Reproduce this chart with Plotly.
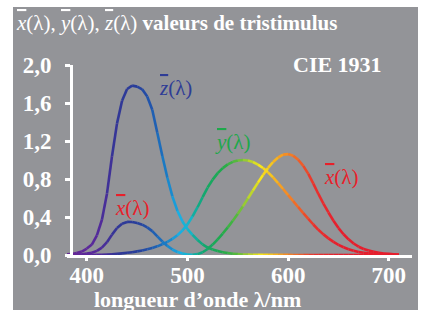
import plotly.graph_objects as go

# ---------------- data (CIE 1931 colour matching functions) ----------------
wavelength = list(range(380, 715, 5))
x_bar = [0.001368, 0.002236, 0.004243, 0.007650, 0.014310, 0.023190, 0.043510, 0.077630,
         0.134380, 0.214770, 0.283900, 0.328500, 0.348280, 0.348060, 0.336200, 0.318700,
         0.290800, 0.251100, 0.195360, 0.142100, 0.095640, 0.057950, 0.032010, 0.014700,
         0.004900, 0.002400, 0.009300, 0.029100, 0.063270, 0.109600, 0.165500, 0.225750,
         0.290400, 0.359700, 0.433450, 0.512050, 0.594500, 0.678400, 0.762100, 0.842500,
         0.916300, 0.978600, 1.026300, 1.056700, 1.062200, 1.045600, 1.002600, 0.938400,
         0.854450, 0.751400, 0.642400, 0.541900, 0.447900, 0.360800, 0.283500, 0.218700,
         0.164900, 0.121200, 0.087400, 0.063600, 0.046770, 0.032900, 0.022700, 0.015840,
         0.011359, 0.008111, 0.005790]
y_bar = [0.000039, 0.000064, 0.000120, 0.000217, 0.000396, 0.000640, 0.001210, 0.002180,
         0.004000, 0.007300, 0.011600, 0.016840, 0.023000, 0.029800, 0.038000, 0.048000,
         0.060000, 0.073900, 0.090980, 0.112600, 0.139020, 0.169300, 0.208020, 0.258600,
         0.323000, 0.407300, 0.503000, 0.608200, 0.710000, 0.793200, 0.862000, 0.914850,
         0.954000, 0.980300, 0.994950, 1.000000, 0.995000, 0.978600, 0.952000, 0.915400,
         0.870000, 0.816300, 0.757000, 0.694900, 0.631000, 0.566800, 0.503000, 0.441200,
         0.381000, 0.321000, 0.265000, 0.217000, 0.175000, 0.138200, 0.107000, 0.081600,
         0.061000, 0.044580, 0.032000, 0.023200, 0.017000, 0.011920, 0.008210, 0.005723,
         0.004102, 0.002929, 0.002091]
z_bar = [0.006450, 0.010550, 0.020050, 0.036210, 0.067850, 0.110200, 0.207400, 0.371300,
         0.645600, 1.039050, 1.385600, 1.622960, 1.747060, 1.782600, 1.772110, 1.744100,
         1.669200, 1.528100, 1.287640, 1.041900, 0.812950, 0.616200, 0.465180, 0.353300,
         0.272000, 0.212300, 0.158200, 0.111700, 0.078250, 0.057250, 0.042160, 0.029840,
         0.020300, 0.013400, 0.008750, 0.005750, 0.003900, 0.002750, 0.002100, 0.001800,
         0.001650, 0.001400, 0.001100, 0.001000, 0.000800, 0.000600, 0.000340, 0.000240,
         0.000190, 0.000100, 0.000050, 0.000030, 0.000020, 0.000010, 0.0, 0.0,
         0.0, 0.0, 0.0, 0.0, 0.0, 0.0, 0.0, 0.0,
         0.0, 0.0, 0.0]

x_tick_vals = [400, 500, 600, 700]
x_tick_text = ["400", "500", "600", "700"]
y_tick_vals = [0.0, 0.4, 0.8, 1.2, 1.6, 2.0]
y_tick_text = ["0,0", "0,4", "0,8", "1,2", "1,6", "2,0"]

# ---------------- style ----------------
FONT = "Liberation Serif"
GRAY = "#939498"
WHITE = "#ffffff"
SPECTRUM = [
    (380, (105, 40, 150)), (410, (85, 40, 155)), (430, (50, 55, 150)), (450, (40, 62, 155)),
    (465, (32, 90, 175)), (480, (25, 128, 200)), (492, (25, 175, 228)), (502, (20, 182, 205)),
    (510, (15, 170, 140)), (520, (22, 168, 100)), (535, (32, 170, 75)), (550, (95, 188, 60)),
    (562, (185, 212, 45)), (572, (247, 232, 25)), (582, (247, 200, 30)), (595, (246, 150, 35)),
    (610, (240, 100, 40)), (625, (233, 50, 45)), (650, (230, 30, 45)), (720, (230, 30, 45)),
]


def spectral_color(lam):
    for (l0, c0), (l1, c1) in zip(SPECTRUM[:-1], SPECTRUM[1:]):
        if l0 <= lam <= l1:
            t = (lam - l0) / (l1 - l0)
            r, g, b = (round(a + (b_ - a) * t) for a, b_ in zip(c0, c1))
            return f"rgb({r},{g},{b})"
    return "rgb(230,30,45)"


fig = go.Figure()
for series in (z_bar, x_bar, y_bar):
    for i in range(len(wavelength) - 1):
        mid = (wavelength[i] + wavelength[i + 1]) / 2
        fig.add_trace(go.Scatter(
            x=wavelength[i:i + 2], y=series[i:i + 2], mode="lines",
            line=dict(color=spectral_color(mid), width=2.6),
            hoverinfo="skip", showlegend=False))

L, R, T, B = 67, 12, 65, 60
W, H = 424, 315
pw, ph = W - L - R, H - T - B


def px(x):
    return (x - L) / pw


def py(y):
    return (H - B - y) / ph


tickfont = dict(family=FONT, size=23, color=WHITE, weight="bold")
yaxis_pos = px(71)

fig.update_layout(
    width=W, height=H,
    margin=dict(l=L, r=R, t=T, b=B, pad=0),
    paper_bgcolor="white", plot_bgcolor=GRAY,
    xaxis=dict(range=[380.3, 723.0], showgrid=False, zeroline=False,
               showline=True, linecolor=WHITE, linewidth=3,
               ticks="outside", ticklen=3, tickwidth=2.5, tickcolor=WHITE,
               tickvals=x_tick_vals, ticktext=x_tick_text, tickfont=tickfont,
               ticklabelstandoff=-6),
    xaxis2=dict(range=[380.3, 723.0], overlaying="x", anchor="y", side="bottom",
                showgrid=False, zeroline=False, showline=False,
                ticks="inside", ticklen=3, tickwidth=2.5, tickcolor=WHITE,
                tickvals=x_tick_vals, showticklabels=False),
    yaxis=dict(range=[0, 2.0], anchor="free", position=yaxis_pos,
               showgrid=False, zeroline=False,
               showline=True, linecolor=WHITE, linewidth=3,
               ticks="outside", ticklen=5, tickwidth=2.5, tickcolor=WHITE,
               tickvals=y_tick_vals, ticktext=y_tick_text, tickfont=tickfont,
               ticklabelstandoff=9),
    yaxis2=dict(range=[0, 2.0], overlaying="y", anchor="free", position=yaxis_pos,
                showgrid=False, zeroline=False, showline=False,
                ticks="inside", ticklen=5, tickwidth=2.5, tickcolor=WHITE,
                tickvals=y_tick_vals, showticklabels=False),
    shapes=[dict(type="rect", xref="paper", yref="paper", layer="below",
                 x0=px(13), x1=px(418), y0=py(310), y1=py(7),
                 fillcolor=GRAY, line=dict(width=0))],
)

OV = '<span style="text-decoration:overline"><i>{}</i></span>(λ)'


def label(text, x, y, color, xref="x", yref="y", size=21, xanchor="center"):
    fig.add_annotation(text=text, x=x, y=y, xref=xref, yref=yref, showarrow=False,
                       xanchor=xanchor, yanchor="middle",
                       font=dict(family=FONT, size=size, color=color))


# curve labels
label(OV.format("z"), 487.6, 1.76, "#2e3c96")
label(OV.format("y"), 545.2, 1.19, "#1ea84b")
label(OV.format("x"), 652.5, 0.82, "#e8202a")
label(OV.format("x"), 444.9, 0.50, "#e8202a")

# header / footer texts
label(OV.format("x") + ", " + OV.format("y") + ", " + OV.format("z") +
      " <b>valeurs de tristimulus</b>",
      px(14), py(23), WHITE, xref="paper", yref="paper", size=21, xanchor="left")
label("<b>CIE 1931</b>", px(337), py(64), WHITE, xref="paper", yref="paper", size=22)
label("<b>longueur d’onde λ/nm</b>", px(197), py(299), WHITE, xref="paper", yref="paper", size=22)

fig.write_html("out.html", config={"displayModeBar": False},
               post_script="document.body.style.margin='0';document.body.style.overflow='hidden';")
